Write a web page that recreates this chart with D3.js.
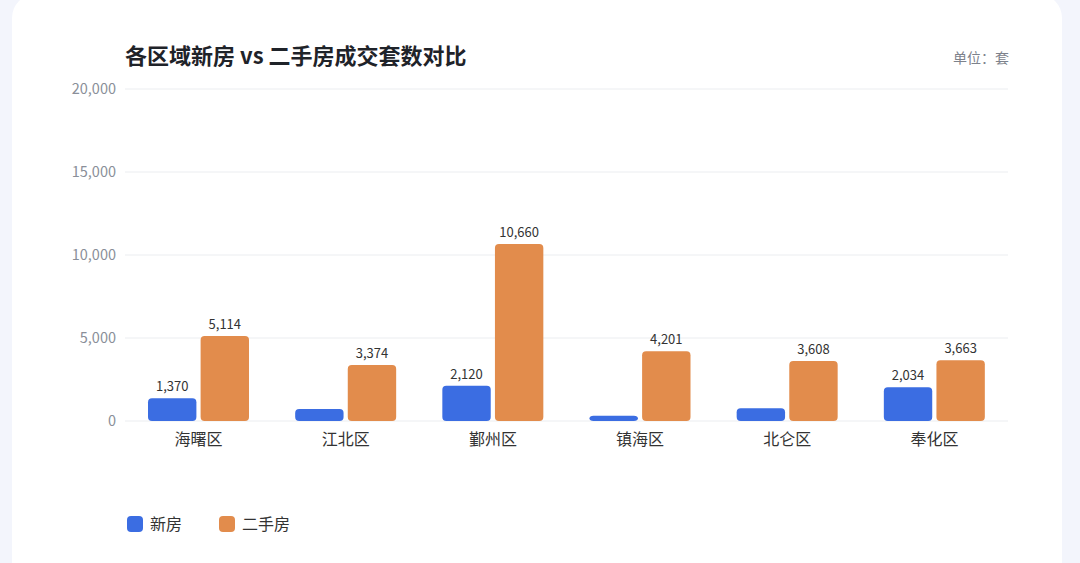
<!DOCTYPE html>
<html><head><meta charset="utf-8">
<script src="https://cdn.jsdelivr.net/npm/d3@7/dist/d3.min.js"></script>
<style>
html,body{margin:0;padding:0;background:#f3f5fc;}
svg{display:block;font-family:"Noto Sans CJK SC","Noto Sans",sans-serif;}
</style></head><body>
<svg id="c" width="1080" height="563"></svg>
<script>
const categories = ["海曙区","江北区","鄞州区","镇海区","北仑区","奉化区"];
const newHouse = [1370, 720, 2120, 320, 770, 2034];
const secondHand = [5114, 3374, 10660, 4201, 3608, 3663];
const seriesNames = ["新房","二手房"];
const yTicks = [0, 5000, 10000, 15000, 20000];
const colors = ["#3b6de2","#e28c4c"];

const svg = d3.select("#c");
svg.append("rect").attr("x",12).attr("y",-6).attr("width",1050).attr("height",620).attr("rx",24).attr("fill","#ffffff");

const x = d3.scaleBand().domain(categories).range([125,1008]).paddingInner(0).paddingOuter(0);
const y = d3.scaleLinear().domain([0,20000]).range([421,89]);
const sub = d3.scaleBand().domain(seriesNames).range([23,124]).paddingInner(0.08);

// grid
svg.append("g").selectAll("line").data(yTicks).join("line")
  .attr("x1",125).attr("x2",1008).attr("y1",d=>y(d)).attr("y2",d=>y(d))
  .attr("stroke","#ebedf0").attr("stroke-width",1);

// y axis labels
const fmt = d3.format(",");
svg.append("g").selectAll("text").data(yTicks).join("text")
  .attr("x",116).attr("y",d=>y(d)).attr("dy","0.35em").attr("text-anchor","end")
  .attr("font-size",14.5).attr("fill","#8a8f99").text(d=>fmt(d));

// x labels
svg.append("g").selectAll("text").data(categories).join("text")
  .attr("x",d=>x(d)+x.bandwidth()/2).attr("y",439).attr("dy","0.35em").attr("text-anchor","middle")
  .attr("font-size",16).attr("fill","#333").text(d=>d);

const data = categories.map((c,i)=>({c, vals:[newHouse[i], secondHand[i]]}));
const g = svg.append("g");
data.forEach(d=>{
  d.vals.forEach((v,j)=>{
    const bx = x(d.c)+sub(seriesNames[j]);
    g.append("rect").attr("x",bx).attr("y",y(v)).attr("width",sub.bandwidth()).attr("height",y(0)-y(v))
      .attr("rx",4).attr("fill",colors[j]);
    if (v >= 1000) {
      g.append("text").attr("x",bx+sub.bandwidth()/2).attr("y",y(v)-7).attr("text-anchor","middle")
        .attr("font-size",13).attr("fill","#333").text(fmt(v));
    }
  });
});

// title
svg.append("text").attr("x",125).attr("y",64).attr("font-size",22).attr("font-weight","bold").attr("fill","#1f2329")
  .text("各区域新房 vs 二手房成交套数对比");
svg.append("text").attr("x",1009).attr("y",63).attr("text-anchor","end").attr("font-size",14).attr("fill","#7d828c")
  .text("单位：套");

// legend
const lg = svg.append("g");
const lx = [127, 219];
seriesNames.forEach((s,j)=>{
  lg.append("rect").attr("x",lx[j]).attr("y",516).attr("width",16).attr("height",16).attr("rx",4).attr("fill",colors[j]);
  lg.append("text").attr("x",lx[j]+23).attr("y",524).attr("dy","0.35em").attr("font-size",16).attr("fill","#333").text(s);
});
</script>
</body></html>
